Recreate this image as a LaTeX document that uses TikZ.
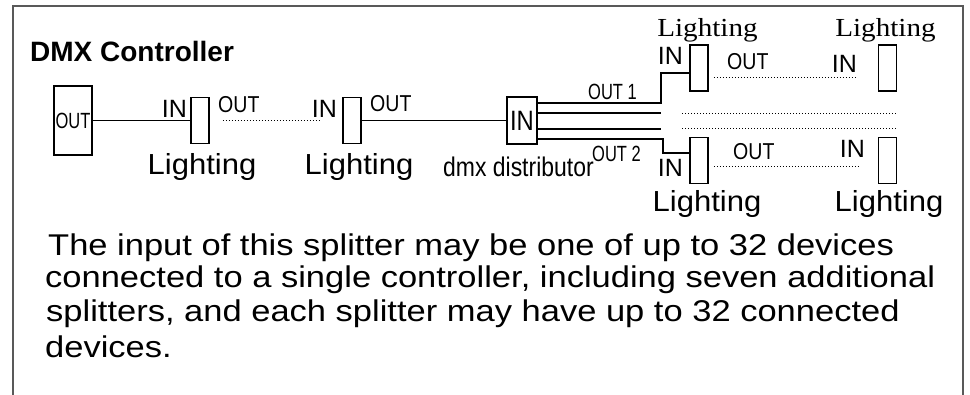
\documentclass[tikz,border=0pt]{standalone}
\usepackage{fontspec}
\setmainfont{Liberation Sans}
\newfontfamily\condfont[FakeStretch=0.85]{Liberation Sans}
\newfontfamily\narrowfont[FakeStretch=0.75]{Liberation Sans}
\newfontfamily\widefont[FakeStretch=1.07]{Liberation Sans}
\newfontfamily\parafont[FakeStretch=1.15]{Liberation Sans}
\newfontfamily\lampserif[FakeStretch=1.12]{Liberation Serif}
\usetikzlibrary{positioning}

\newcommand{\fs}[1]{\fontsize{#1}{#1}\selectfont}

\begin{document}
\begin{tikzpicture}[
  x=1pt,y=-1pt,
  lamp/.style={draw,line width=1.5pt,minimum width=18pt,minimum height=46pt,
               inner sep=0pt},
  wire/.style={line width=1.5pt},
  dotline/.style={line width=0.9pt,dash pattern=on 1pt off 2pt},
  inlbl/.style={font=\fs{25},inner sep=0pt,anchor=base east},
  outlbl/.style={font=\condfont\fs{23},inner sep=0pt,anchor=base west},
  portlbl/.style={font=\narrowfont\fs{22},inner sep=0pt,anchor=base west},
  lamplbl/.style={font=\widefont\fs{29},inner sep=0pt,anchor=base},
  toplbl/.style={font=\lampserif\fs{26},inner sep=0pt,anchor=base},
  paraline/.style={font=\parafont\fs{30},inner sep=0pt,anchor=base west}
]
\useasboundingbox (0,0) rectangle (970,395);
% --- frame ---
\draw[line width=1.8pt,black!65] (13,395) -- (13,6) -- (963,6) -- (963,395);
% --- controller and first chain ---
\node[font=\bfseries\fs{28},inner sep=0pt,anchor=base west] (title) at (30,62) {DMX Controller};
\node[draw,line width=1.5pt,minimum width=38pt,minimum height=69pt,inner sep=0pt,
      font=\narrowfont\fs{22}] (ctl) at (73,120.5) {OUT};
\node[lamp] (lamp1) at (200,120.5) {};
\node[lamp] (lamp2) at (352,120.5) {};
\node[draw,line width=1.5pt,minimum width=30pt,minimum height=47pt,inner sep=0pt,
      font=\condfont\fs{28}] (dist) at (522,120.5) {IN};
\draw[wire] (ctl) -- (lamp1);
\draw[dotline] ([xshift=13pt]lamp1.east) -- ([xshift=-23pt]lamp2.west);
\draw[wire] (lamp2) -- (dist);
\node[inlbl] (in1) at (187,118) {IN};
\node[outlbl] (out1) at (218,113) {OUT};
\node[lamplbl] (name1) at (202,175) {Lighting};
\node[inlbl] (in2) at (337,118) {IN};
\node[outlbl] (out2) at (370,112) {OUT};
\node[lamplbl] (name2) at (359,175) {Lighting};
\node[font=\condfont\fs{27},inner sep=0pt,anchor=base west] (distname) at (443,177) {dmx distributor};
% --- distributor outputs ---
\node[lamp] (lampA) at (699,68) {};
\node[lamp] (lampB) at (887.5,68) {};
\node[lamp] (lampC) at (699,160.5) {};
\node[lamp] (lampD) at (887.5,160.5) {};
\draw[wire] ([yshift=17.5pt]dist.east) -- ++(123,0) |- ([yshift=-5pt]lampA.west);
\draw[wire] ([yshift=7.5pt]dist.east) -- ++(123,0);
\draw[wire] ([yshift=-8.5pt]dist.east) -- ++(123,0);
\draw[wire] ([yshift=-18.5pt]dist.east) -- ++(125,0) |- ([yshift=7.5pt]lampC.west);
\draw[dotline] ([xshift=5pt,yshift=-9pt]lampA.east) -- ([xshift=-22pt,yshift=-9pt]lampB.west);
\draw[dotline] ([xshift=5pt,yshift=-5.5pt]lampC.east) -- ([xshift=-19pt,yshift=-5.5pt]lampD.west);
\draw[dotline] (682,113) -- (897,113);
\draw[dotline] (682,128) -- (897,128);
\node[portlbl] (port1) at (588,100) {OUT 1};
\node[portlbl] (port2) at (592,162) {OUT 2};
\node[toplbl] (nameA) at (707.5,37) {Lighting};
\node[toplbl] (nameB) at (885.5,37) {Lighting};
\node[inlbl] (inA) at (683,65) {IN};
\node[outlbl] (outA) at (727,70) {OUT};
\node[inlbl] (inB) at (857,73) {IN};
\node[inlbl] (inC) at (683,177) {IN};
\node[outlbl] (outC) at (733,160) {OUT};
\node[lamplbl] (nameC) at (707,212) {Lighting};
\node[inlbl] (inD) at (865,158) {IN};
\node[lamplbl] (nameD) at (889,212) {Lighting};
% --- note ---
\node[paraline] (p1) at (48,256) {The input of this splitter may be one of up to 32 devices};
\node[paraline] (p2) at (45,288) {connected to a single controller, including seven additional};
\node[paraline] (p3) at (46,322) {splitters, and each splitter may have up to 32 connected};
\node[paraline] (p4) at (45,358) {devices.};
\end{tikzpicture}
\end{document}
